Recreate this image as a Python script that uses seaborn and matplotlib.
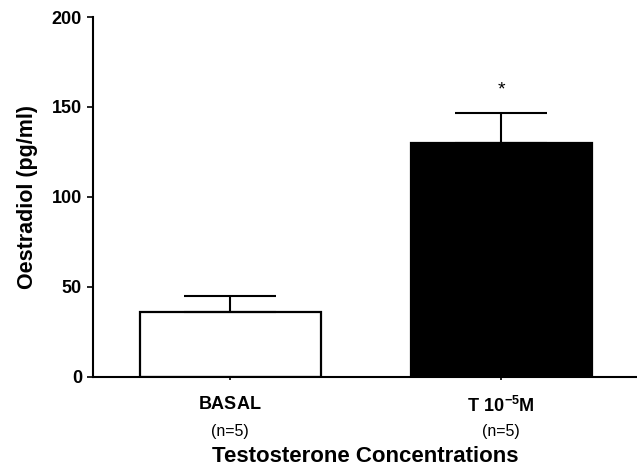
import matplotlib
matplotlib.use("Agg")
import matplotlib.pyplot as plt
import matplotlib.transforms as mtransforms
import seaborn as sns
import pandas as pd

categories = ["BASAL", "T 10-5M"]
tick_labels = [r"$\mathbf{BASAL}$", r"$\mathbf{T\ 10^{-5}M}$"]
n_labels = ["(n=5)", "(n=5)"]
means = [36, 130]
sems = [9.2, 16.5]
bar_colors = ["white", "black"]
star_labels = ["", "*"]

sns.set_theme(style="ticks")
plt.rcParams["font.family"] = ["Liberation Sans", "DejaVu Sans"]
plt.rcParams["mathtext.fontset"] = "custom"
plt.rcParams["mathtext.rm"] = "Liberation Sans:bold"
plt.rcParams["mathtext.bf"] = "Liberation Sans:bold"
plt.rcParams["text.color"] = "black"
plt.rcParams["axes.labelcolor"] = "black"
plt.rcParams["xtick.color"] = "black"
plt.rcParams["ytick.color"] = "black"

df = pd.DataFrame({"cat": categories, "val": means})

fig = plt.figure(figsize=(6.37, 4.71), dpi=100)
ax = fig.add_axes([0.146, 0.1996, 0.854, 0.7643])

sns.barplot(data=df, x="cat", y="val", hue="cat", palette=bar_colors,
            edgecolor="black", linewidth=1.6, width=0.667, errorbar=None,
            legend=False, ax=ax, saturation=1)

xs = list(range(len(categories)))
ax.errorbar(xs, means, yerr=[[0] * len(sems), sems], fmt="none",
            ecolor="black", elinewidth=1.5, capsize=33, capthick=1.5, zorder=1)

for x, m, s, st in zip(xs, means, sems, star_labels):
    if st:
        ax.text(x, m + s + 13, st, ha="center", va="center", fontsize=14,
                color="black")

ax.set_ylim(0, 200)
ax.set_xlim(-0.505, 1.5)
ax.set_yticks([0, 50, 100, 150, 200])
ax.set_yticklabels(["0", "50", "100", "150", "200"], fontsize=13,
                   fontweight="bold")
ax.set_xticks(xs)
ax.set_xticklabels(tick_labels, fontsize=13)
ax.tick_params(axis="x", length=2.5, width=1.2, pad=11)
ax.tick_params(axis="y", length=4, width=1.2, pad=4)

trans = mtransforms.blended_transform_factory(ax.transData, ax.transAxes)
for x, nl in zip(xs, n_labels):
    ax.text(x, -0.152, nl, transform=trans, ha="center", va="center",
            fontsize=11.5, color="black")

ax.set_ylabel("Oestradiol (pg/ml)", fontsize=15.5, fontweight="bold")
ax.yaxis.set_label_coords(-0.12, 0.5)
ax.yaxis.label.set_va("center")
ax.set_xlabel("Testosterone Concentrations", fontsize=16, fontweight="bold")
ax.xaxis.set_label_coords(0.5, -0.22)
ax.xaxis.label.set_va("center")

sns.despine(ax=ax, top=True, right=True)
for sp in ["left", "bottom"]:
    ax.spines[sp].set_linewidth(1.5)
    ax.spines[sp].set_color("black")

fig.savefig("out.png", dpi=100)
